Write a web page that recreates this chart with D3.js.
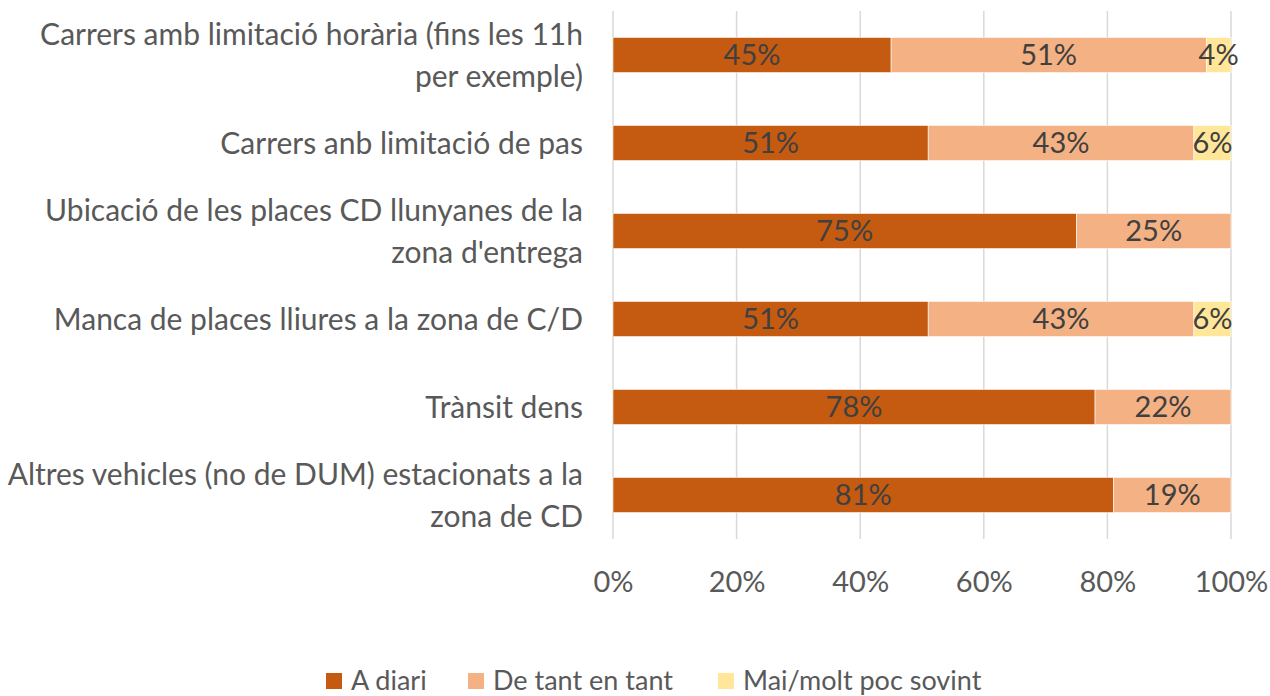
<!DOCTYPE html>
<html>
<head>
<meta charset="utf-8">
<script src="https://cdn.jsdelivr.net/npm/d3@7"></script>
<style>
  html, body { margin: 0; padding: 0; background: #fff; }
  svg { display: block; font-family: Lato, "Open Sans", sans-serif; }
</style>
</head>
<body>
<svg id="chart" width="1270" height="696"></svg>
<script>
// Categories (top to bottom); "\n" marks a manual line break in the label
const categories = [
  "Carrers amb limitació horària (fins les 11h\nper exemple)",
  "Carrers anb limitació de pas",
  "Ubicació de les places CD llunyanes de la\nzona d'entrega",
  "Manca de places lliures a la zona de C/D",
  "Trànsit dens",
  "Altres vehicles (no de DUM) estacionats a la\nzona de CD"
];

// Series values, in percent
const aDiari       = [45, 51, 75, 51, 78, 81];
const deTantEnTant = [51, 43, 25, 43, 22, 19];
const maiPocSovint = [4, 6, 0, 6, 0, 0];

const seriesNames = ["A diari", "De tant en tant", "Mai/molt poc sovint"];
const seriesColors = ["#c55a11", "#f4b183", "#ffe699"];

const xTicks = [0, 20, 40, 60, 80, 100];

// Table used by the stack layout
const rows = categories.map((c, i) => ({
  cat: c,
  "A diari": aDiari[i],
  "De tant en tant": deTantEnTant[i],
  "Mai/molt poc sovint": maiPocSovint[i]
}));

const svg = d3.select("#chart");

const x = d3.scaleLinear().domain([0, 100]).range([613, 1231]);
const y = d3.scaleBand().domain(categories).range([11, 539])
  .paddingInner(0.6).paddingOuter(0.3);
const color = d3.scaleOrdinal().domain(seriesNames).range(seriesColors);

// Vertical gridlines
svg.append("g")
  .selectAll("line")
  .data(xTicks)
  .join("line")
  .attr("x1", d => x(d)).attr("x2", d => x(d))
  .attr("y1", 11).attr("y2", 539)
  .attr("stroke", "#d9d9d9")
  .attr("stroke-width", 1.5);

// Stacked bars
const stacked = d3.stack().keys(seriesNames)(rows);

const layers = svg.append("g")
  .selectAll("g")
  .data(stacked)
  .join("g")
  .attr("fill", d => color(d.key));

layers.selectAll("rect")
  .data(d => d.filter(s => s[1] - s[0] > 0))
  .join("rect")
  .attr("x", d => x(d[0]))
  .attr("width", d => x(d[1]) - x(d[0]))
  .attr("y", d => y(d.data.cat))
  .attr("height", y.bandwidth())
  .attr("stroke", "#fff")
  .attr("stroke-width", 0.6);

// Value labels centred in each segment
layers.selectAll("text")
  .data(d => d.filter(s => s[1] - s[0] > 0))
  .join("text")
  .attr("x", d => x((d[0] + d[1]) / 2))
  .attr("y", d => y(d.data.cat) + y.bandwidth() / 2)
  .attr("dy", "0.36em")
  .attr("text-anchor", "middle")
  .attr("fill", "#404040")
  .attr("font-size", 29)
  .text(d => Math.round(d[1] - d[0]) + "%");

// Bottom axis (percent labels)
const xAxis = svg.append("g")
  .attr("transform", "translate(0,539)")
  .call(d3.axisBottom(x).tickValues(xTicks).tickSize(0).tickPadding(32)
    .tickFormat(d => d + "%"));
xAxis.select(".domain").remove();
xAxis.selectAll("text")
  .attr("font-family", "Lato, 'Open Sans', sans-serif")
  .attr("font-size", 29)
  .attr("fill", "#595959");

// Left axis with wrapped category labels (tick groups sit at band centres)
const yAxis = svg.append("g")
  .attr("transform", "translate(613,0)")
  .call(d3.axisLeft(y).tickSize(0).tickPadding(30));
yAxis.select(".domain").remove();
yAxis.selectAll("text").each(function(d) {
  const lines = d.split("\n");
  const t = d3.select(this)
    .attr("font-family", "Lato, 'Open Sans', sans-serif")
    .attr("font-size", 30)
    .attr("fill", "#595959")
    .attr("dy", null)
    .text(null);
  const lh = 42;
  const first = -((lines.length - 1) * lh) / 2;
  lines.forEach((ln, i) => {
    t.append("tspan")
      .attr("x", -30)
      .attr("y", first + i * lh)
      .attr("dy", "0.36em")
      .text(ln);
  });
});

// Legend
const legendX = [326, 468, 718];
const legend = svg.append("g")
  .selectAll("g")
  .data(seriesNames)
  .join("g")
  .attr("transform", (d, i) => `translate(${legendX[i]},680)`);
legend.append("rect")
  .attr("x", 0).attr("y", -7)
  .attr("width", 16).attr("height", 16)
  .attr("fill", d => color(d));
legend.append("text")
  .attr("x", 25)
  .attr("y", 0)
  .attr("dy", "0.36em")
  .attr("font-size", 27)
  .attr("fill", "#595959")
  .text(d => d);
</script>
</body>
</html>
